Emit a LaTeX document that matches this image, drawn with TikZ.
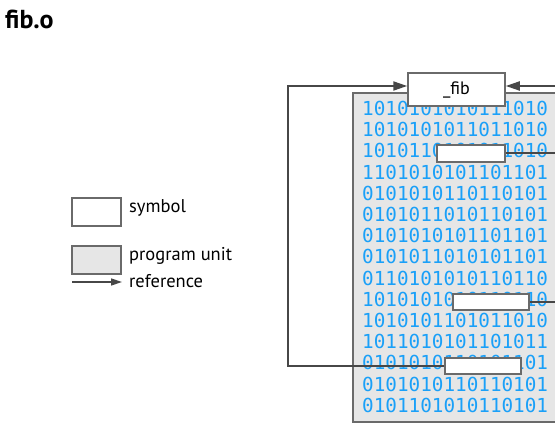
\documentclass[tikz,border=0pt]{standalone}
\usepackage{fontspec}
\setmainfont{PT Sans}
\newfontfamily\bitsfont[RawFeature=+zero]{DejaVu Sans Mono}
\usetikzlibrary{arrows.meta}

\definecolor{linegrey}{HTML}{474747}
\definecolor{boxgrey}{HTML}{6A6A6A}
\definecolor{unitfill}{HTML}{E6E6E6}
\definecolor{bitblue}{HTML}{1AA0F8}

\tikzset{
  symbolbox/.style={draw=boxgrey, line width=1.5pt, fill=white, inner sep=0pt},
  unitbox/.style={draw=boxgrey, line width=1.5pt, fill=unitfill, inner sep=0pt},
  conn/.style={draw=linegrey, line width=2pt},
  reftip/.style={-{Triangle[length=14pt, width=9pt]}},
  smalltip/.style={-{Triangle[length=11pt, width=7pt]}},
  bits/.style={text=bitblue, font=\bitsfont\fontsize{19.3}{20}\selectfont, inner sep=0pt, anchor=base west},
  legendtext/.style={font=\fontsize{18.5}{22}\selectfont, inner sep=0pt, anchor=west},
}

\begin{document}
\begin{tikzpicture}[x=1pt, y=-1pt]
  \useasboundingbox (0,0) rectangle (555,427);
  \clip (0,0) rectangle (555,427);

  % title
  \node[font=\bfseries\fontsize{26}{28}\selectfont, inner sep=0pt, anchor=base west] (title) at (5,28.5) {fib.o};

  % legend
  \node[symbolbox, minimum width=49pt, minimum height=28pt] (legsym) at (96.5,212) {};
  \node[legendtext] (legsymtext) at (129,207.5) {symbol};
  \node[unitbox, minimum width=49pt, minimum height=28pt] (legunit) at (96.5,260) {};
  \node[legendtext] (legunittext) at (129,255.5) {program unit};
  \coordinate (legarrowstart) at (72,282);
  \node[legendtext] (legreftext) at (129,281) {reference};
  \draw[conn, line width=1.4pt, smalltip] (legarrowstart) -- (legarrowstart -| 122,0);

  % program unit with its machine code
  \node[unitbox, minimum width=212pt, minimum height=329pt] (unit) at (459,257.5) {};
  \foreach \row [count=\i from 0] in {
      1010101010111010, 1010101011011010, 1010110101011010,
      1101010101101101, 0101010110110101, 0101011010110101,
      0101010101101101, 0101011010101101, 0110101010110110,
      1010101010110110, 1010101101011010, 1011010101101011,
      0101010110101101, 0101010110110101, 0101101010110101}
    \node[bits] (bits\i) at (362,115.5+21.2*\i) {\row};

  % symbols
  \node[symbolbox, minimum width=97pt, minimum height=33pt, font=\fontsize{18}{20}\selectfont] (fib) at (456.5,89.5) {\_fib};
  \node[symbolbox, minimum width=68pt, minimum height=17pt] (sym1) at (471,153.5) {};
  \node[symbolbox, minimum width=76pt, minimum height=16pt] (sym2) at (491,302) {};
  \node[symbolbox, minimum width=76pt, minimum height=16pt] (sym3) at (483,366) {};

  % references to _fib
  \coordinate (leftbus) at (288,86);
  \coordinate (rightbus) at (575,86);
  \draw[conn, reftip] (sym3.west) -| (leftbus) -- (fib.west |- leftbus);
  \draw[conn] (sym1.east) -| (rightbus);
  \draw[conn] (sym2.east) -| (rightbus);
  \draw[conn, reftip] (rightbus) -- (fib.east |- rightbus);
\end{tikzpicture}
\end{document}
